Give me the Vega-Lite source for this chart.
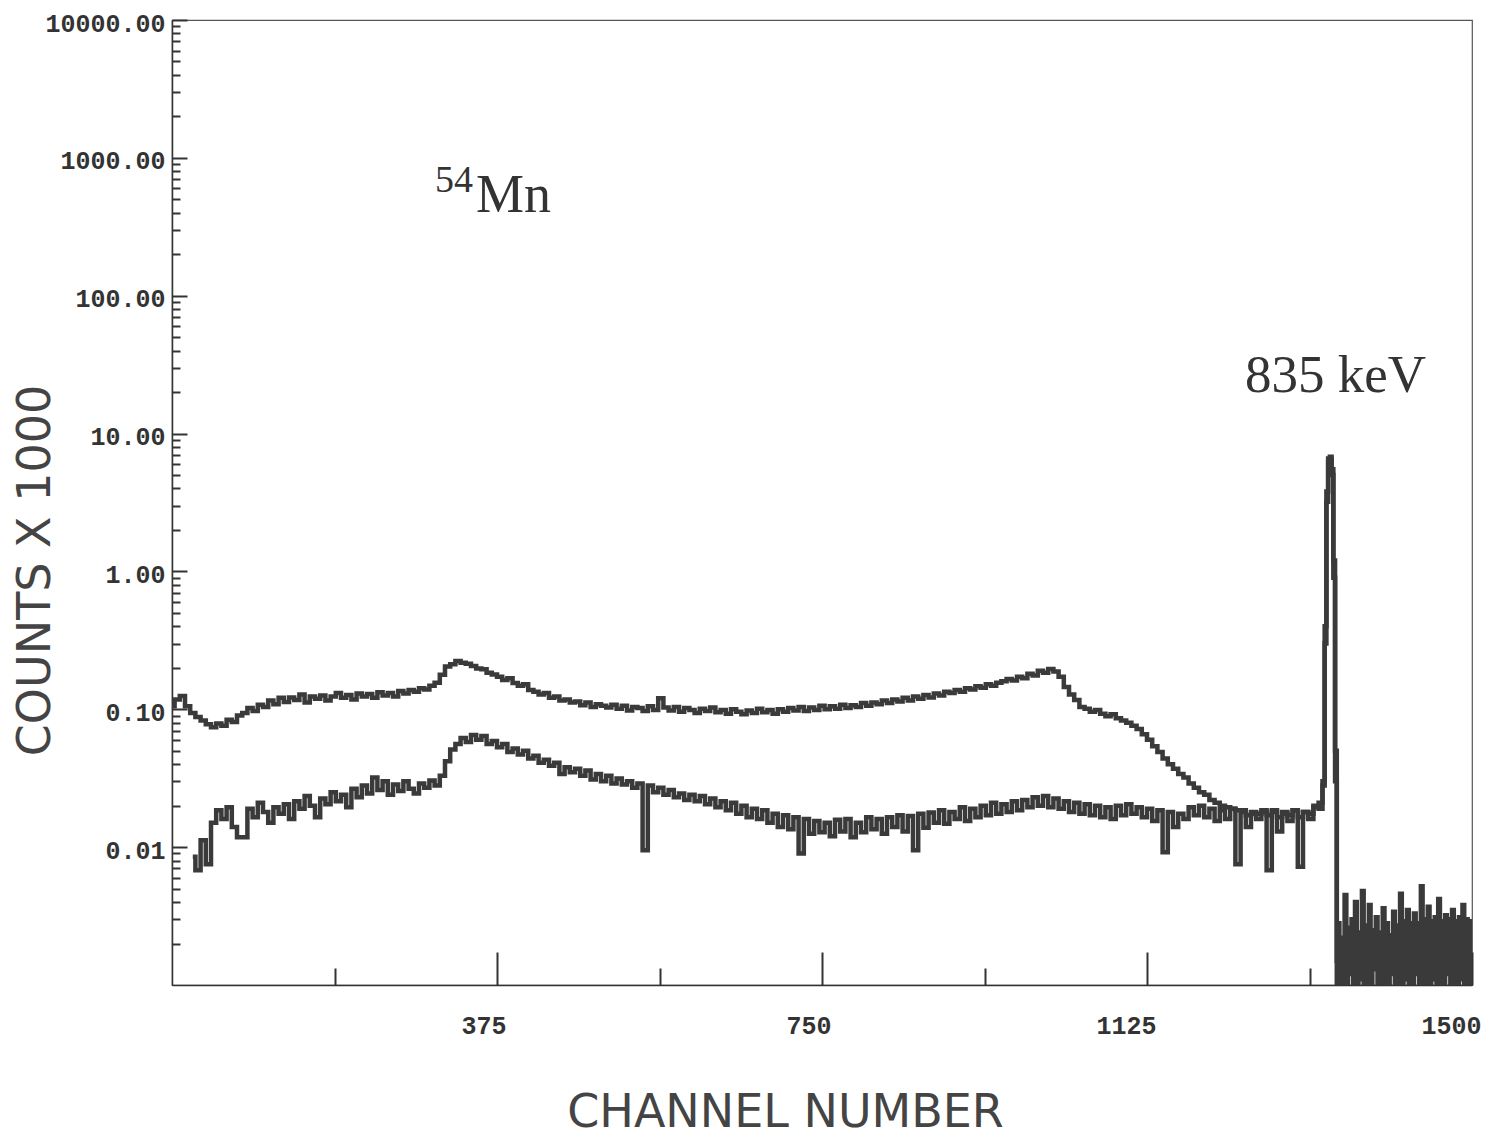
{
  "$schema": "https://vega.github.io/schema/vega-lite/v6.json",
  "width": 1300,
  "height": 965,
  "autosize": {"type": "none"},
  "padding": {"left": 172, "top": 20, "right": 18, "bottom": 152},
  "background": "white",
  "config": {"view": {"stroke": "#555", "strokeWidth": 1.2}},
  "encoding": {
    "x": {
      "field": "ch", "type": "quantitative",
      "scale": {"domain": [0, 1500], "nice": false, "zero": false},
      "axis": {
        "title": "CHANNEL NUMBER",
        "values": [187.5, 375, 562.5, 750, 937.5, 1125, 1312.5, 1500],
        "labelExpr": "datum.value % 375 == 0 ? format(datum.value, 'd') : ''",
        "tickSize": {"condition": {"test": "datum.value % 375 == 0", "value": -33}, "value": -17},
        "tickWidth": 2, "tickColor": "#333",
        "domainColor": "#333", "domainWidth": 1.5,
        "grid": false,
        "labelPadding": 61, "labelAlign": "right", "labelOffset": 9, "labelBaseline": "top",
        "labelFont": "Liberation Mono", "labelFontWeight": "bold", "labelFontSize": 25, "labelColor": "#333",
        "labelFlush": false, "labelOverlap": false,
        "titleFont": "DejaVu Sans", "titleFontWeight": "normal", "titleFontSize": 46, "titleColor": "#444",
        "titleX": 613, "titleY": 127, "titleAlign": "center", "titleBaseline": "middle"
      }
    },
    "y": {
      "field": "c", "type": "quantitative",
      "scale": {"type": "log", "domain": [0.001, 10000], "nice": false},
      "axis": {
        "title": "COUNTS X 1000",
        "values": [0.002,0.003,0.004,0.005,0.006,0.007,0.008,0.009,0.01,0.02,0.03,0.04,0.05,0.06,0.07,0.08,0.09,0.1,0.2,0.3,0.4,0.5,0.6,0.7,0.8,0.9,1,2,3,4,5,6,7,8,9,10,20,30,40,50,60,70,80,90,100,200,300,400,500,600,700,800,900,1000,2000,3000,4000,5000,6000,7000,8000,9000,10000],
        "labelExpr": "abs(log(datum.value)/LN10 - round(log(datum.value)/LN10)) < 0.01 ? format(datum.value, '.2f') : ''",
        "tickSize": {"condition": {"test": "abs(log(datum.value)/LN10 - round(log(datum.value)/LN10)) < 0.01", "value": -15}, "value": -8},
        "tickWidth": 2, "tickColor": "#333",
        "domainColor": "#333", "domainWidth": 1.5,
        "grid": false,
        "labelPadding": 22, "labelBaseline": "middle", "labelOffset": 3,
        "labelFont": "Liberation Mono", "labelFontWeight": "bold", "labelFontSize": 25, "labelColor": "#333",
        "labelFlush": false, "labelOverlap": false,
        "titleFont": "DejaVu Sans", "titleFontWeight": "normal", "titleFontSize": 46, "titleColor": "#444",
        "titleAngle": -90, "titleX": -137, "titleY": 550, "titleAlign": "center", "titleBaseline": "middle"
      }
    }
  },
  "layer": [
    {
      "data": {"values": [
        {"ch":0,"a":0.105},{"ch":6,"a":0.118},{"ch":12,"a":0.125},{"ch":18,"a":0.105},
        {"ch":24,"a":0.094,"b":0.0085},{"ch":30,"a":0.088,"b":0.0068},{"ch":36,"a":0.083,"b":0.0112},{"ch":42,"a":0.078,"b":0.0075},
        {"ch":48,"a":0.074,"b":0.015},{"ch":54,"a":0.079,"b":0.0185},{"ch":60,"a":0.076,"b":0.016},{"ch":66,"a":0.084,"b":0.0195},
        {"ch":72,"a":0.081,"b":0.014},{"ch":78,"a":0.09,"b":0.0118},{"ch":84,"a":0.094,"b":0.0118},{"ch":90,"a":0.102,"b":0.019},
        {"ch":96,"a":0.097,"b":0.0165},{"ch":102,"a":0.108,"b":0.021},{"ch":108,"a":0.104,"b":0.018},{"ch":114,"a":0.116,"b":0.015},
        {"ch":120,"a":0.109,"b":0.0195},{"ch":126,"a":0.121,"b":0.0175},{"ch":132,"a":0.113,"b":0.0205},{"ch":138,"a":0.122,"b":0.016},
        {"ch":144,"a":0.117,"b":0.0215},{"ch":150,"a":0.128,"b":0.019},{"ch":156,"a":0.112,"b":0.0235},{"ch":162,"a":0.124,"b":0.02},
        {"ch":168,"a":0.119,"b":0.0165},{"ch":174,"a":0.126,"b":0.0225},{"ch":180,"a":0.116,"b":0.0205},{"ch":186,"a":0.124,"b":0.025},
        {"ch":192,"a":0.131,"b":0.0215},{"ch":198,"a":0.121,"b":0.024},{"ch":204,"a":0.127,"b":0.0195},{"ch":210,"a":0.118,"b":0.0265},
        {"ch":216,"a":0.13,"b":0.023},{"ch":222,"a":0.124,"b":0.028},{"ch":228,"a":0.129,"b":0.0245},{"ch":234,"a":0.121,"b":0.032},
        {"ch":240,"a":0.133,"b":0.026},{"ch":246,"a":0.126,"b":0.03},{"ch":252,"a":0.131,"b":0.024},{"ch":258,"a":0.124,"b":0.0285},
        {"ch":264,"a":0.136,"b":0.0255},{"ch":270,"a":0.13,"b":0.03},{"ch":276,"a":0.138,"b":0.0265},{"ch":282,"a":0.134,"b":0.0245},
        {"ch":288,"a":0.142,"b":0.029},{"ch":294,"a":0.139,"b":0.027},{"ch":300,"a":0.148,"b":0.0305},{"ch":306,"a":0.156,"b":0.028},
        {"ch":312,"a":0.178,"b":0.033},{"ch":318,"a":0.204,"b":0.042},{"ch":324,"a":0.212,"b":0.051},{"ch":330,"a":0.224,"b":0.056},
        {"ch":336,"a":0.218,"b":0.062},{"ch":342,"a":0.214,"b":0.058},{"ch":348,"a":0.206,"b":0.065},{"ch":354,"a":0.198,"b":0.06},
        {"ch":360,"a":0.195,"b":0.064},{"ch":366,"a":0.184,"b":0.056},{"ch":372,"a":0.179,"b":0.059},{"ch":378,"a":0.172,"b":0.053},
        {"ch":384,"a":0.163,"b":0.056},{"ch":390,"a":0.168,"b":0.049},{"ch":396,"a":0.155,"b":0.052},{"ch":402,"a":0.148,"b":0.047},
        {"ch":408,"a":0.152,"b":0.05},{"ch":414,"a":0.138,"b":0.044},{"ch":420,"a":0.134,"b":0.046},{"ch":426,"a":0.128,"b":0.041},
        {"ch":432,"a":0.131,"b":0.043},{"ch":438,"a":0.121,"b":0.039},{"ch":444,"a":0.124,"b":0.041},{"ch":450,"a":0.116,"b":0.034},
        {"ch":456,"a":0.118,"b":0.038},{"ch":462,"a":0.112,"b":0.035},{"ch":468,"a":0.114,"b":0.037},{"ch":474,"a":0.107,"b":0.033},
        {"ch":480,"a":0.112,"b":0.036},{"ch":486,"a":0.104,"b":0.031},{"ch":492,"a":0.109,"b":0.034},{"ch":498,"a":0.106,"b":0.03},
        {"ch":504,"a":0.103,"b":0.033},{"ch":510,"a":0.108,"b":0.029},{"ch":516,"a":0.101,"b":0.0315},{"ch":522,"a":0.106,"b":0.0285},
        {"ch":528,"a":0.098,"b":0.03},{"ch":534,"a":0.104,"b":0.027},{"ch":540,"a":0.102,"b":0.029},{"ch":546,"a":0.097,"b":0.0095},
        {"ch":552,"a":0.105,"b":0.028},{"ch":558,"a":0.099,"b":0.025},{"ch":564,"a":0.12,"b":0.027},{"ch":570,"a":0.103,"b":0.024},
        {"ch":576,"a":0.098,"b":0.026},{"ch":582,"a":0.104,"b":0.023},{"ch":588,"a":0.096,"b":0.0245},{"ch":594,"a":0.102,"b":0.022},
        {"ch":600,"a":0.099,"b":0.024},{"ch":606,"a":0.094,"b":0.0215},{"ch":612,"a":0.101,"b":0.0235},{"ch":618,"a":0.097,"b":0.0205},
        {"ch":624,"a":0.103,"b":0.0225},{"ch":630,"a":0.095,"b":0.0195},{"ch":636,"a":0.099,"b":0.0215},{"ch":642,"a":0.093,"b":0.0185},
        {"ch":648,"a":0.1,"b":0.021},{"ch":654,"a":0.096,"b":0.0175},{"ch":660,"a":0.092,"b":0.02},{"ch":666,"a":0.098,"b":0.0165},
        {"ch":672,"a":0.094,"b":0.019},{"ch":678,"a":0.101,"b":0.016},{"ch":684,"a":0.095,"b":0.0185},{"ch":690,"a":0.099,"b":0.015},
        {"ch":696,"a":0.093,"b":0.0175},{"ch":702,"a":0.1,"b":0.014},{"ch":708,"a":0.096,"b":0.017},{"ch":714,"a":0.102,"b":0.0135},
        {"ch":720,"a":0.098,"b":0.0165},{"ch":726,"a":0.104,"b":0.009},{"ch":732,"a":0.097,"b":0.016},{"ch":738,"a":0.103,"b":0.0125},
        {"ch":744,"a":0.099,"b":0.0155},{"ch":750,"a":0.106,"b":0.0128},{"ch":756,"a":0.1,"b":0.015},{"ch":762,"a":0.105,"b":0.012},
        {"ch":768,"a":0.101,"b":0.0158},{"ch":774,"a":0.108,"b":0.013},{"ch":780,"a":0.102,"b":0.016},{"ch":786,"a":0.107,"b":0.0118},
        {"ch":792,"a":0.104,"b":0.015},{"ch":798,"a":0.111,"b":0.0128},{"ch":804,"a":0.106,"b":0.0165},{"ch":810,"a":0.112,"b":0.0135},
        {"ch":816,"a":0.109,"b":0.016},{"ch":822,"a":0.116,"b":0.0125},{"ch":828,"a":0.111,"b":0.0165},{"ch":834,"a":0.118,"b":0.014},
        {"ch":840,"a":0.114,"b":0.017},{"ch":846,"a":0.121,"b":0.013},{"ch":852,"a":0.116,"b":0.0168},{"ch":858,"a":0.124,"b":0.0095},
        {"ch":864,"a":0.119,"b":0.0175},{"ch":870,"a":0.127,"b":0.0138},{"ch":876,"a":0.122,"b":0.0178},{"ch":882,"a":0.13,"b":0.015},
        {"ch":888,"a":0.126,"b":0.0185},{"ch":894,"a":0.134,"b":0.0148},{"ch":900,"a":0.131,"b":0.018},{"ch":906,"a":0.138,"b":0.016},
        {"ch":912,"a":0.134,"b":0.0195},{"ch":918,"a":0.142,"b":0.0155},{"ch":924,"a":0.139,"b":0.019},{"ch":930,"a":0.147,"b":0.0165},
        {"ch":936,"a":0.143,"b":0.02},{"ch":942,"a":0.152,"b":0.017},{"ch":948,"a":0.148,"b":0.021},{"ch":954,"a":0.156,"b":0.0175},
        {"ch":960,"a":0.16,"b":0.0205},{"ch":966,"a":0.166,"b":0.018},{"ch":972,"a":0.162,"b":0.0215},{"ch":978,"a":0.172,"b":0.0185},
        {"ch":984,"a":0.168,"b":0.022},{"ch":990,"a":0.181,"b":0.0195},{"ch":996,"a":0.176,"b":0.023},{"ch":1002,"a":0.19,"b":0.02},
        {"ch":1008,"a":0.184,"b":0.0235},{"ch":1014,"a":0.196,"b":0.0195},{"ch":1020,"a":0.188,"b":0.0225},{"ch":1026,"a":0.172,"b":0.019},
        {"ch":1032,"a":0.145,"b":0.0215},{"ch":1038,"a":0.128,"b":0.018},{"ch":1044,"a":0.117,"b":0.021},{"ch":1050,"a":0.104,"b":0.0175},
        {"ch":1056,"a":0.101,"b":0.0205},{"ch":1062,"a":0.096,"b":0.017},{"ch":1068,"a":0.099,"b":0.02},{"ch":1074,"a":0.093,"b":0.0165},
        {"ch":1080,"a":0.089,"b":0.0195},{"ch":1086,"a":0.092,"b":0.016},{"ch":1092,"a":0.086,"b":0.02},{"ch":1098,"a":0.083,"b":0.017},
        {"ch":1104,"a":0.08,"b":0.0205},{"ch":1110,"a":0.076,"b":0.0175},{"ch":1116,"a":0.072,"b":0.0195},{"ch":1122,"a":0.066,"b":0.0165},
        {"ch":1128,"a":0.06,"b":0.019},{"ch":1134,"a":0.054,"b":0.0155},{"ch":1140,"a":0.049,"b":0.0185},{"ch":1146,"a":0.044,"b":0.0092},
        {"ch":1152,"a":0.04,"b":0.018},{"ch":1158,"a":0.037,"b":0.014},{"ch":1164,"a":0.034,"b":0.0175},{"ch":1170,"a":0.032,"b":0.016},
        {"ch":1176,"a":0.029,"b":0.0195},{"ch":1182,"a":0.027,"b":0.017},{"ch":1188,"a":0.025,"b":0.02},{"ch":1194,"a":0.024,"b":0.0165},
        {"ch":1200,"a":0.022,"b":0.019},{"ch":1206,"a":0.021,"b":0.0155},{"ch":1212,"a":0.02,"b":0.0185},{"ch":1218,"a":0.0195,"b":0.016},
        {"ch":1224,"a":0.019,"b":0.019},{"ch":1230,"a":0.0185,"b":0.0075},{"ch":1236,"a":0.0185,"b":0.018},{"ch":1242,"a":0.017,"b":0.014},
        {"ch":1248,"a":0.018,"b":0.0175},{"ch":1254,"a":0.0175,"b":0.016},{"ch":1260,"a":0.018,"b":0.0185},{"ch":1266,"a":0.017,"b":0.0068},
        {"ch":1272,"a":0.0185,"b":0.018},{"ch":1278,"a":0.0165,"b":0.013},{"ch":1284,"a":0.018,"b":0.0175},{"ch":1290,"a":0.017,"b":0.0155},
        {"ch":1296,"a":0.0185,"b":0.0185},{"ch":1302,"a":0.0165,"b":0.0072},{"ch":1308,"a":0.018,"b":0.018},{"ch":1314,"a":0.0175,"b":0.016},
        {"ch":1320,"a":0.02,"b":0.0195},{"ch":1326,"a":0.021,"b":0.019},{"ch":1329,"a":0.03,"b":0.028},{"ch":1331,"a":0.4,"b":0.3},
        {"ch":1333,"a":3.8,"b":3.2},{"ch":1335,"a":6.6,"b":6.2},{"ch":1337,"a":6.8,"b":6.5},{"ch":1339,"a":5.5,"b":5.0},
        {"ch":1341,"a":1.2,"b":0.9},{"ch":1343,"a":0.05,"b":0.03},{"ch":1345,"a":0.0015,"b":0.001},
        {"ch":1346,"a":0.0028},{"ch":1348,"a":0.001},{"ch":1350,"a":0.0022},{"ch":1352,"a":0.001},{"ch":1354,"a":0.0045},
        {"ch":1356,"a":0.001},{"ch":1358,"a":0.0026},{"ch":1360,"a":0.0012},{"ch":1362,"a":0.003},{"ch":1364,"a":0.001},
        {"ch":1366,"a":0.004},{"ch":1368,"a":0.001},{"ch":1370,"a":0.0024},{"ch":1372,"a":0.0011},{"ch":1374,"a":0.0048},
        {"ch":1376,"a":0.001},{"ch":1378,"a":0.0027},{"ch":1380,"a":0.001},{"ch":1382,"a":0.0038},{"ch":1384,"a":0.001},
        {"ch":1386,"a":0.0025},{"ch":1388,"a":0.0013},{"ch":1390,"a":0.0031},{"ch":1392,"a":0.001},{"ch":1394,"a":0.0024},
        {"ch":1396,"a":0.001},{"ch":1398,"a":0.0036},{"ch":1400,"a":0.001},{"ch":1402,"a":0.0028},{"ch":1404,"a":0.001},
        {"ch":1406,"a":0.0023},{"ch":1408,"a":0.0012},{"ch":1410,"a":0.0034},{"ch":1412,"a":0.001},{"ch":1414,"a":0.0027},
        {"ch":1416,"a":0.001},{"ch":1418,"a":0.0046},{"ch":1420,"a":0.001},{"ch":1422,"a":0.0029},{"ch":1424,"a":0.0011},
        {"ch":1426,"a":0.0035},{"ch":1428,"a":0.001},{"ch":1430,"a":0.0028},{"ch":1432,"a":0.001},{"ch":1434,"a":0.0033},
        {"ch":1436,"a":0.0012},{"ch":1438,"a":0.0028},{"ch":1440,"a":0.001},{"ch":1442,"a":0.0052},{"ch":1444,"a":0.001},
        {"ch":1446,"a":0.003},{"ch":1448,"a":0.001},{"ch":1450,"a":0.0037},{"ch":1452,"a":0.001},{"ch":1454,"a":0.0029},
        {"ch":1456,"a":0.0011},{"ch":1458,"a":0.0031},{"ch":1460,"a":0.001},{"ch":1462,"a":0.0042},{"ch":1464,"a":0.001},
        {"ch":1466,"a":0.0029},{"ch":1468,"a":0.001},{"ch":1470,"a":0.0032},{"ch":1472,"a":0.0012},{"ch":1474,"a":0.003},
        {"ch":1476,"a":0.001},{"ch":1478,"a":0.0035},{"ch":1480,"a":0.001},{"ch":1482,"a":0.0029},{"ch":1484,"a":0.001},
        {"ch":1486,"a":0.0031},{"ch":1488,"a":0.0011},{"ch":1490,"a":0.0038},{"ch":1492,"a":0.001},{"ch":1494,"a":0.003},
        {"ch":1496,"a":0.001},{"ch":1498,"a":0.0029},{"ch":1500,"a":0.001}
      ]},
      "transform": [
        {"fold": ["a", "b"], "as": ["series", "c"]},
        {"filter": "isValid(datum.c)"}
      ],
      "mark": {"type": "line", "interpolate": "step", "strokeWidth": 4.5, "color": "#3a3a3a", "clip": true},
      "encoding": {"detail": {"field": "series", "type": "nominal"}}
    },
    {
      "data": {"values": [{"t": "54", "ch": 303.5, "c": 567}]},
      "mark": {"type": "text", "font": "Liberation Serif", "fontSize": 38, "align": "left", "baseline": "alphabetic", "color": "#333"},
      "encoding": {"text": {"field": "t"}}
    },
    {
      "data": {"values": [{"t": "Mn", "ch": 350.8, "c": 406}]},
      "mark": {"type": "text", "font": "Liberation Serif", "fontSize": 54, "align": "left", "baseline": "alphabetic", "color": "#333"},
      "encoding": {"text": {"field": "t"}}
    },
    {
      "data": {"values": [{"t": "835 keV", "ch": 1238, "c": 20.1}]},
      "mark": {"type": "text", "font": "Liberation Serif", "fontSize": 53, "align": "left", "baseline": "alphabetic", "color": "#333"},
      "encoding": {"text": {"field": "t"}}
    }
  ]
}
